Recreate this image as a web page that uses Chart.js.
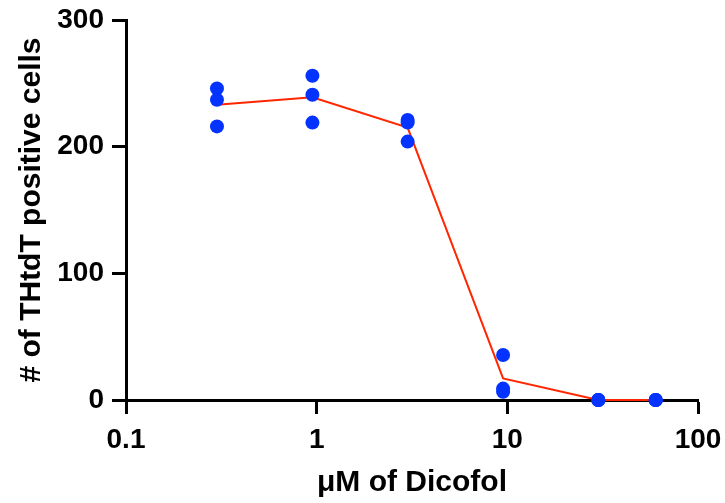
<!DOCTYPE html>
<html>
<head>
<meta charset="utf-8">
<script src="https://cdn.jsdelivr.net/npm/chart.js@4.4.1/dist/chart.umd.min.js"></script>
<style>
html,body{margin:0;padding:0;background:#fff;}
#wrap{width:725px;height:503px;}
</style>
</head>
<body>
<div id="wrap"><canvas id="c" width="725" height="503"></canvas></div>
<script>
const doses = [0.3, 0.95, 3, 9.5, 30, 60];
const rep1 = [246, 256, 221, 35.5, 0, 0];
const rep2 = [237, 241, 219, 9, 0, 0];
const rep3 = [216, 219, 204, 6.5, 0, 0];
const means = [233, 239, 215, 17, 0, 0];
const xTicks = [0.1, 1, 10, 100];
const yTicks = [0, 100, 200, 300];

const pts = [];
[rep1, rep2, rep3].forEach(r => r.forEach((v, i) => pts.push({x: doses[i], y: v})));
const meanPts = doses.map((d, i) => ({x: d, y: means[i]}));

const FONT = '"Liberation Sans", Arial, Helvetica, sans-serif';
Chart.defaults.font.family = FONT;
Chart.defaults.color = '#000';

new Chart(document.getElementById('c'), {
  type: 'scatter',
  data: {
    datasets: [
      {
        data: pts,
        showLine: false,
        pointRadius: 7,
        pointHoverRadius: 7,
        pointBackgroundColor: '#0433FF',
        pointBorderWidth: 0,
        clip: false,
        order: 0
      },
      {
        data: meanPts,
        showLine: true,
        borderColor: '#FF2600',
        borderWidth: 2,
        pointRadius: 0,
        fill: false,
        clip: false,
        order: 1
      }
    ]
  },
  options: {
    responsive: false,
    animation: false,
    events: [],
    layout: {padding: {top: 20, right: 27, left: 0, bottom: 0}},
    plugins: {legend: {display: false}, tooltip: {enabled: false}},
    scales: {
      x: {
        type: 'logarithmic',
        min: 0.1,
        max: 100,
        afterBuildTicks: s => { s.ticks = xTicks.map(v => ({value: v})); },
        afterFit: s => { s.height = 103; s.paddingLeft = 0; s.paddingRight = 0; },
        ticks: {
          font: {size: 28, weight: 'bold'},
          color: '#000',
          padding: 9,
          autoSkip: false,
          maxRotation: 0,
          callback: v => String(v)
        },
        grid: {display: true, drawOnChartArea: false, drawTicks: true, tickLength: 14, tickWidth: 3, tickColor: '#000', color: '#000'},
        border: {display: true, width: 3, color: '#000'},
        title: {display: true, text: 'μM of Dicofol', font: {size: 30, weight: 'bold'}, color: '#000', padding: {top: 0, bottom: 2}}
      },
      y: {
        type: 'linear',
        min: 0,
        max: 300,
        afterBuildTicks: s => { s.ticks = yTicks.map(v => ({value: v})); },
        afterFit: s => { s.width = 126; s.paddingTop = 0; s.paddingBottom = 0; },
        ticks: {
          font: {size: 28, weight: 'bold'},
          color: '#000',
          padding: 8,
          callback: v => String(v)
        },
        grid: {display: true, drawOnChartArea: false, drawTicks: true, tickLength: 14, tickWidth: 3, tickColor: '#000', color: '#000'},
        border: {display: true, width: 3, color: '#000'},
        title: {display: true, text: '# of THtdT positive cells', font: {size: 30, weight: 'bold'}, color: '#000', padding: {top: 14, bottom: 0}}
      }
    }
  }
});
</script>
</body>
</html>
